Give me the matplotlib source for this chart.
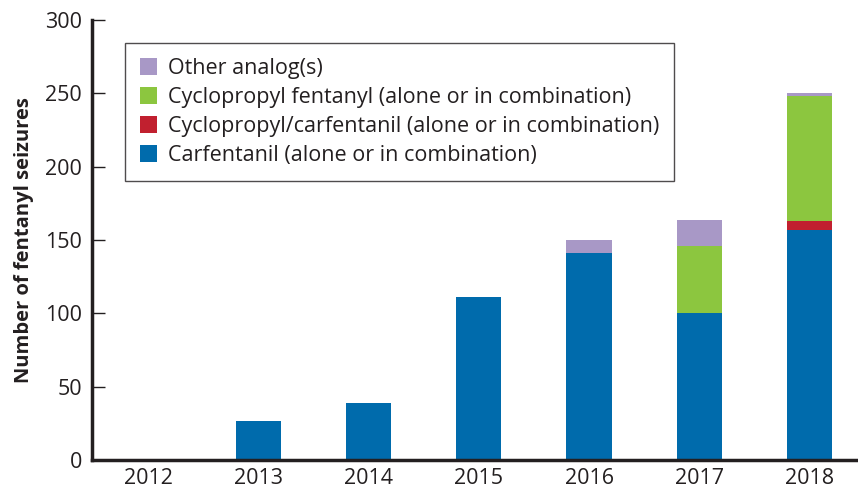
import matplotlib.pyplot as plt
import numpy as np

years = ['2012', '2013', '2014', '2015', '2016', '2017', '2018']
carfentanil = [0, 27, 39, 111, 141, 100, 157]
cyclo_carfentanil = [0, 0, 0, 0, 0, 0, 6]
cyclopropyl_fentanyl = [0, 0, 0, 0, 0, 46, 85]
other_analogs = [0, 0, 0, 0, 9, 18, 2]

labels = ['Carfentanil (alone or in combination)',
          'Cyclopropyl/carfentanil (alone or in combination)',
          'Cyclopropyl fentanyl (alone or in combination)',
          'Other analog(s)']
colors = ['#006BAC', '#C1202F', '#8CC63F', '#A898C6']

plt.rcParams['font.family'] = ['Open Sans', 'DejaVu Sans']
text_color = '#231F20'

fig = plt.figure(figsize=(8.58, 4.9), dpi=100)
ax = fig.add_axes([0.107, 0.061, 0.893, 0.898])

x = np.arange(len(years))
series = [carfentanil, cyclo_carfentanil, cyclopropyl_fentanyl, other_analogs]
bottom = np.zeros(len(years))
handles = []
for vals, lab, col in zip(series, labels, colors):
    b = ax.bar(x, vals, width=0.41, bottom=bottom, color=col, label=lab)
    handles.append(b)
    bottom += np.array(vals)

ax.set_xlim(-0.51, 6.44)
ax.set_ylim(0, 300)
ax.set_yticks(range(0, 301, 50))
ax.set_xticks(x)
ax.set_xticklabels(years)
ax.tick_params(axis='y', direction='in', length=9, width=1, colors=text_color,
               labelsize=15.5, pad=7)
ax.tick_params(axis='x', length=0, colors=text_color, labelsize=15.5, pad=6)
ax.set_ylabel('Number of fentanyl seizures', fontsize=14.5, fontweight='bold',
              color=text_color, labelpad=8)

for s in ['top', 'right']:
    ax.spines[s].set_visible(False)
for s in ['left', 'bottom']:
    ax.spines[s].set_linewidth(2.5)
    ax.spines[s].set_color(text_color)

leg = ax.legend(handles[::-1], labels[::-1], loc='upper left',
                bbox_to_anchor=(0.043, 0.948), fontsize=15.5, frameon=True,
                fancybox=False, edgecolor=text_color, handlelength=0.8,
                handleheight=0.8, handletextpad=0.5, labelspacing=0.37,
                borderpad=0.7, borderaxespad=0)
leg.get_frame().set_linewidth(1)
for t in leg.get_texts():
    t.set_color(text_color)

fig.savefig('out.png', dpi=100)
